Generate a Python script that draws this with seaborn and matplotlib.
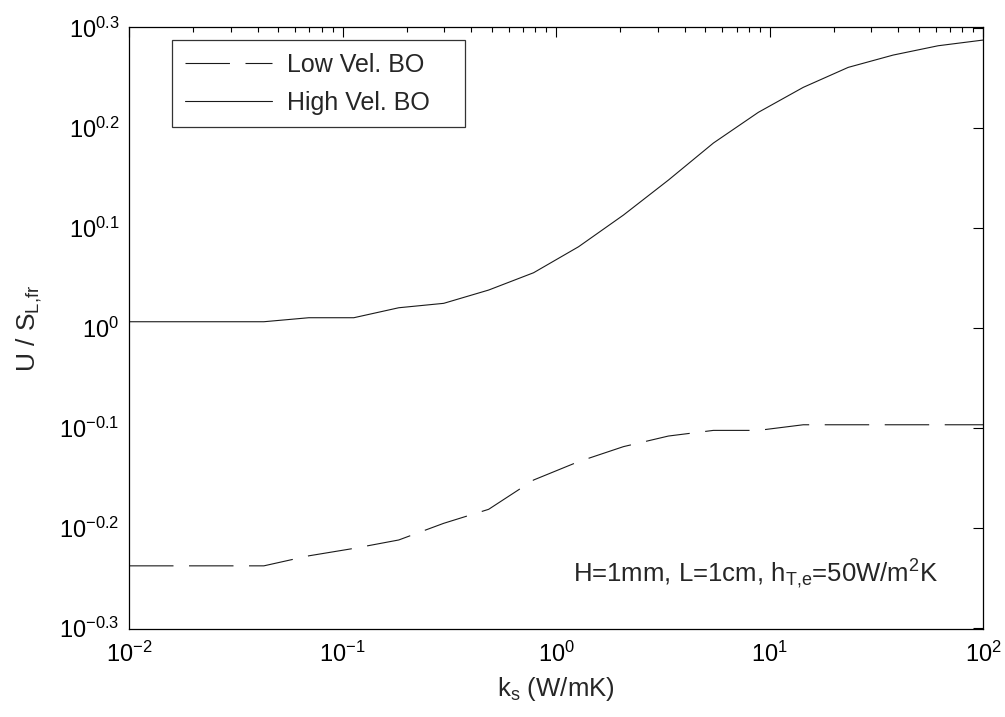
import numpy as np
import pandas as pd
import matplotlib
matplotlib.use("Agg")
import matplotlib.pyplot as plt
import matplotlib.ticker as mticker
import seaborn as sns

# k_s values (W/mK)
k_s = [0.01, 0.0162, 0.0264, 0.0428, 0.0695, 0.1129, 0.1833, 0.2976, 0.4833, 0.7848,
       1.274, 2.069, 3.360, 5.456, 8.859, 14.38, 23.36, 37.93, 61.58, 100.0]

# U / S_L,fr for the two branches
low_vel = [0.5783, 0.5783, 0.5783, 0.5783, 0.5918, 0.6020, 0.6138, 0.6378, 0.6587, 0.7047,
           0.7351, 0.7610, 0.7798, 0.7900, 0.7900, 0.8003, 0.8003, 0.8003, 0.8003, 0.8003]
high_vel = [1.0146, 1.0146, 1.0146, 1.0146, 1.0240, 1.0240, 1.0478, 1.0585, 1.0914, 1.1358,
            1.2058, 1.2972, 1.4060, 1.5311, 1.6433, 1.7406, 1.8226, 1.8750, 1.9156, 1.9409]

series_names = ["Low Vel. BO", "High Vel. BO"]

y_ticks = [10 ** -0.3, 10 ** -0.2, 10 ** -0.1, 1.0, 10 ** 0.1, 10 ** 0.2, 10 ** 0.3]
y_tick_labels = [r"$\mathrm{10^{-0.3}}$", r"$\mathrm{10^{-0.2}}$", r"$\mathrm{10^{-0.1}}$",
                 r"$\mathrm{10^{0}}$", r"$\mathrm{10^{0.1}}$", r"$\mathrm{10^{0.2}}$",
                 r"$\mathrm{10^{0.3}}$"]
x_ticks = [0.01, 0.1, 1.0, 10.0, 100.0]
x_tick_labels = [r"$\mathrm{10^{-2}}$", r"$\mathrm{10^{-1}}$", r"$\mathrm{10^{0}}$",
                 r"$\mathrm{10^{1}}$", r"$\mathrm{10^{2}}$"]

df = pd.DataFrame({
    "k_s": k_s * 2,
    "U": low_vel + high_vel,
    "case": [series_names[0]] * len(k_s) + [series_names[1]] * len(k_s),
})

sns.set_style("white")
plt.rcParams["font.family"] = ["Liberation Sans", "DejaVu Sans"]
plt.rcParams["mathtext.fontset"] = "custom"
plt.rcParams["mathtext.rm"] = "Liberation Sans"
plt.rcParams["mathtext.it"] = "Liberation Sans"
plt.rcParams["mathtext.bf"] = "Liberation Sans"

fig = plt.figure(figsize=(10.05, 7.17), dpi=100)
ax = fig.add_axes([0.1284, 0.1227, 0.8498, 0.8396])

sns.lineplot(data=df, x="k_s", y="U", style="case", style_order=series_names,
             dashes={series_names[0]: (40, 14), series_names[1]: ""},
             color="#1a1a1a", linewidth=0.8, ax=ax, legend=True)

ax.set_xscale("log")
ax.set_yscale("log")
ax.set_xlim(0.01, 100)
ax.set_ylim(0.5, 2.0)

ax.xaxis.set_major_locator(mticker.FixedLocator(x_ticks))
ax.xaxis.set_major_formatter(mticker.FixedFormatter(x_tick_labels))
ax.xaxis.set_minor_locator(mticker.LogLocator(base=10, subs=np.arange(2, 10), numticks=20))
ax.xaxis.set_minor_formatter(mticker.NullFormatter())
ax.yaxis.set_major_locator(mticker.FixedLocator(y_ticks))
ax.yaxis.set_major_formatter(mticker.FixedFormatter(y_tick_labels))
ax.yaxis.set_minor_locator(mticker.NullLocator())

ax.tick_params(which="both", direction="in", top=True, right=True, colors="black",
               labelsize=17, width=0.8)
ax.tick_params(which="major", length=7)
ax.tick_params(axis="x", which="major", pad=9)
ax.tick_params(axis="y", which="major", pad=7)
ax.tick_params(which="minor", length=3.5)
for s in ax.spines.values():
    s.set_color("black")
    s.set_linewidth(0.9)

ax.set_xlabel(r"$\mathrm{k_s}$ (W/mK)", fontsize=18.5, labelpad=6)
ax.set_ylabel(r"U / $\mathrm{S_{L{,}fr}}$", fontsize=19, labelpad=11)

ax.text(0.947, 0.078, r"H=1mm, L=1cm, $\mathrm{h_{T{,}e}}$=50W/$\mathrm{m^2}$K",
        transform=ax.transAxes, ha="right", va="baseline", fontsize=18.5)

# legend box spans roughly x 172..465 px in the reference
leg = ax.legend(loc="upper left", bbox_to_anchor=(0.0503, 0.70, 0.343, 0.278),
                mode="expand", fontsize=18,
                handlelength=3.5, frameon=True, fancybox=False, borderaxespad=0,
                labelspacing=0.55, handletextpad=0.58, borderpad=0.5)
leg.get_frame().set_edgecolor("black")
leg.get_frame().set_linewidth(0.9)
leg.set_title(None)

fig.savefig("out.png", dpi=100, facecolor="white")
